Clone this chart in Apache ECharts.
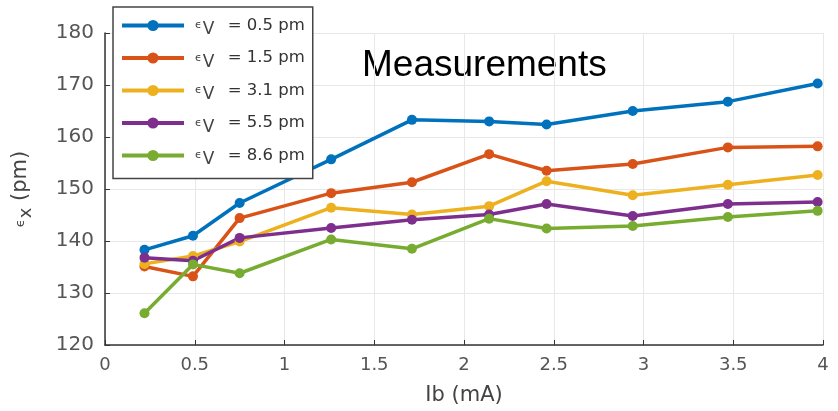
<!DOCTYPE html>
<html>
<head>
<meta charset="utf-8">
<script src="https://cdn.jsdelivr.net/npm/echarts@6/dist/echarts.min.js"></script>
<style>
  html, body { margin: 0; padding: 0; background: #fff; }
  #chart { width: 838px; height: 411px; }
</style>
</head>
<body>
<div id="chart"></div>
<script>
// beam current (mA)
var ibValues = [0.22, 0.49, 0.75, 1.26, 1.71, 2.14, 2.46, 2.94, 3.47, 3.97]
var seriesNames = ['0.5', '1.5', '3.1', '5.5', '8.6']
var eps05 = [138.3, 141.0, 147.3, 155.7, 163.3, 163.0, 162.4, 165.0, 166.8, 170.3]
var eps15 = [135.1, 133.2, 144.4, 149.2, 151.3, 156.7, 153.5, 154.8, 158.0, 158.2]
var eps31 = [135.6, 137.1, 139.9, 146.4, 145.1, 146.7, 151.5, 148.8, 150.8, 152.7]
var eps55 = [136.8, 136.2, 140.6, 142.5, 144.1, 145.1, 147.1, 144.8, 147.1, 147.5]
var eps86 = [126.1, 135.5, 133.8, 140.3, 138.5, 144.3, 142.4, 142.9, 144.6, 145.8]
var allSeries = [eps05, eps15, eps31, eps55, eps86]
var colors = ['#0072BD', '#D95319', '#EDB120', '#7E2F8E', '#77AC30']

var labelFont = 'DejaVu Sans'

function pairs(ys) {
  return ys.map(function (y, i) { return [ibValues[i], y] })
}

var chart = echarts.init(document.getElementById('chart'))

chart.setOption({
  animation: false,
  color: colors,
  grid: {
    left: 105,
    right: 15,
    top: 33,
    bottom: 64
  },
  legend: {
    orient: 'vertical',
    left: 113,
    top: 7,
    padding: [10, 8, 10, 7],
    itemGap: 11,
    itemWidth: 62,
    itemHeight: 14,
    backgroundColor: '#fff',
    borderColor: '#444',
    borderWidth: 1.5,
    borderRadius: 0,
    lineStyle: { width: 4 },
    formatter: function (name) {
      return '{e|ϵ}{s|V}{t| = ' + name + ' pm}'
    },
    textStyle: {
      rich: {
        e: { fontFamily: labelFont, fontSize: 11, color: '#444', padding: [0, 0, 0, 6] },
        s: { fontFamily: labelFont, fontSize: 17, color: '#444', padding: [9, 8, 0, 1] },
        t: { fontFamily: labelFont, fontSize: 16.5, color: '#333' }
      }
    },
    data: seriesNames
  },
  graphic: [{
    type: 'text',
    left: 362,
    top: 47,
    style: {
      text: 'Measurements',
      fontFamily: 'Liberation Sans',
      fontSize: 37,
      fill: '#000'
    }
  }],
  xAxis: {
    type: 'value',
    min: 0,
    max: 4,
    interval: 0.5,
    name: 'Ib (mA)',
    nameLocation: 'middle',
    nameGap: 40,
    nameTextStyle: { fontFamily: labelFont, fontSize: 21, color: '#444' },
    axisLine: { lineStyle: { color: '#333', width: 1.5 } },
    axisTick: { inside: true, length: 5, lineStyle: { color: '#333' } },
    axisLabel: { fontFamily: labelFont, fontSize: 18, color: '#555', margin: 11 },
    splitLine: { show: true, lineStyle: { color: '#e8e8e8', width: 1 } }
  },
  yAxis: {
    type: 'value',
    min: 120,
    max: 180,
    interval: 10,
    name: '{e|ϵ}{s|x}{t| (pm)}',
    nameLocation: 'middle',
    nameRotate: 90,
    nameGap: 70,
    nameTextStyle: {
      rich: {
        e: { fontFamily: labelFont, fontSize: 13, color: '#444' },
        s: { fontFamily: labelFont, fontSize: 18, color: '#444', padding: [10, 0, 0, 1] },
        t: { fontFamily: labelFont, fontSize: 21, color: '#444' }
      }
    },
    axisLine: { show: true, lineStyle: { color: '#333', width: 1.5 } },
    axisTick: { show: true, inside: true, length: 5, lineStyle: { color: '#333' } },
    axisLabel: { fontFamily: labelFont, fontSize: 20, color: '#555', margin: 11 },
    splitLine: { show: true, lineStyle: { color: '#e8e8e8', width: 1 } }
  },
  series: allSeries.map(function (ys, i) {
    return {
      name: seriesNames[i],
      type: 'line',
      data: pairs(ys),
      symbol: 'circle',
      symbolSize: 10,
      lineStyle: { width: 3.5, color: colors[i] },
      itemStyle: { color: colors[i] }
    }
  })
})
</script>
</body>
</html>
